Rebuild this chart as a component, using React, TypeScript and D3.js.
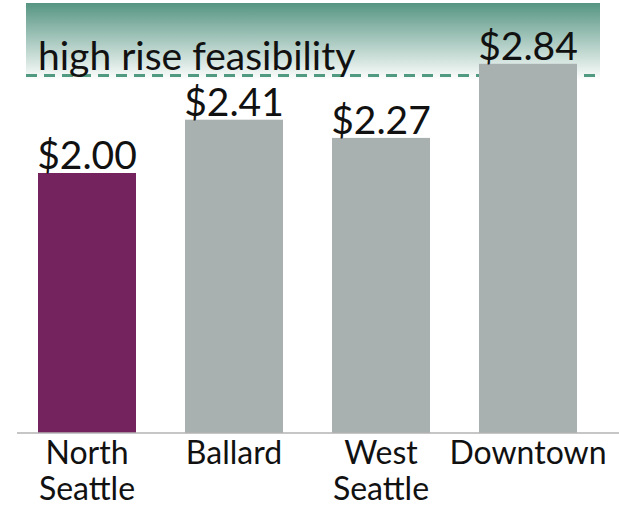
import React from 'react';
import * as d3 from 'd3';

const categories = ['North Seattle', 'Ballard', 'West Seattle', 'Downtown'];
const values = [2.0, 2.41, 2.27, 2.84];
const valueLabels = ['$2.00', '$2.41', '$2.27', '$2.84'];
const highlight = ['North Seattle'];
const thresholdValue = 2.75;
const thresholdLabel = 'high rise feasibility';
const bandTop = 3.3;

const width = 619;
const height = 508;
const font = "'Lato', 'DejaVu Sans', sans-serif";

function App() {
  const x = d3.scaleBand<string>()
    .domain(categories)
    .range([13.5, 601.5])
    .paddingInner(1 / 3)
    .paddingOuter(1 / 6);

  const y = d3.scaleLinear().domain([0, 3.3]).range([433, 4]);

  const tY = y(thresholdValue);

  return (
    <svg width={width} height={height} style={{ position: 'absolute', left: 0, top: 0 }}>
      <defs>
        <linearGradient id="band" x1="0" y1="0" x2="0" y2="1">
          <stop offset="0%" stopColor="#569582" />
          <stop offset="100%" stopColor="#ffffff" />
        </linearGradient>
      </defs>
      <rect x={26} y={y(bandTop) - 1} width={574} height={tY - y(bandTop) + 6} fill="url(#band)" />
      <line x1={26} x2={600} y1={tY} y2={tY} stroke="#4f9a80" strokeWidth={3} strokeDasharray="11 7" />
      <text x={38} y={tY - 6} fontFamily={font} fontSize={39} fill="#111">{thresholdLabel}</text>

      {categories.map((c, i) => (
        <g key={c}>
          <rect
            x={x(c)}
            y={y(values[i])}
            width={x.bandwidth()}
            height={y(0) - y(values[i])}
            fill={highlight.includes(c) ? '#74235e' : '#a9b1b0'}
          />
          <text
            x={(x(c) as number) + x.bandwidth() / 2}
            y={y(values[i]) - 4}
            textAnchor="middle"
            fontFamily={font}
            fontSize={39}
            fill="#111"
          >
            {valueLabels[i]}
          </text>
          {c.split(' ').map((w, j) => (
            <text
              key={w}
              x={(x(c) as number) + x.bandwidth() / 2}
              y={464 + j * 36}
              textAnchor="middle"
              fontFamily={font}
              fontSize={32}
              fill="#111"
            >
              {w}
            </text>
          ))}
        </g>
      ))}

      <line x1={17} x2={619} y1={y(0)} y2={y(0)} stroke="#b3b3b3" strokeWidth={1.5} />
    </svg>
  );
}

export default App;
